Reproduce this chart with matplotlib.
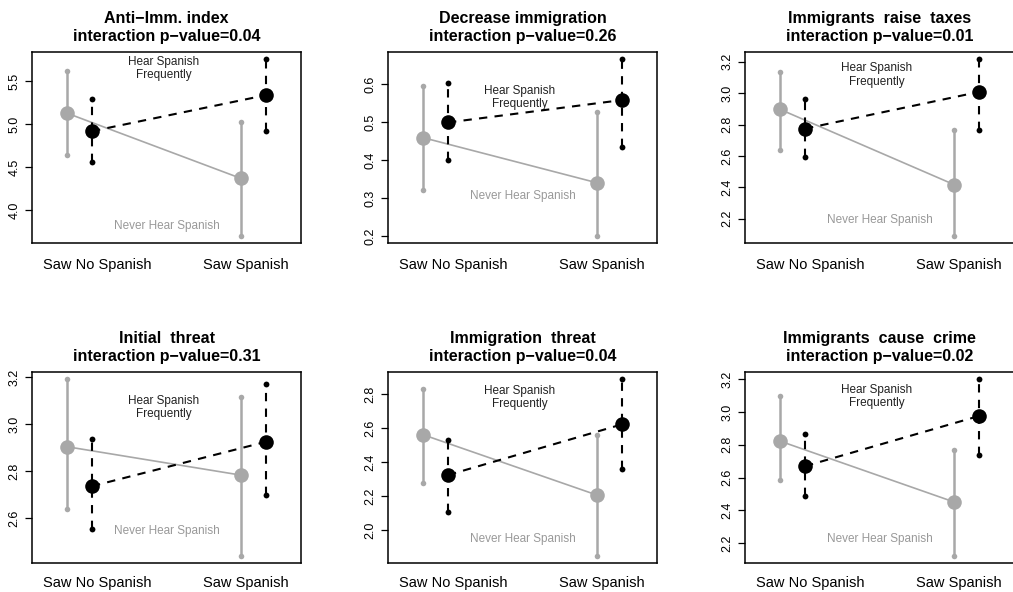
import matplotlib
matplotlib.use("Agg")
import matplotlib.pyplot as plt

plt.rcParams['font.family'] = ['Liberation Sans', 'DejaVu Sans']

titles = ["Anti\u2212Imm. index\ninteraction p\u2212value=0.04",
          "Decrease immigration\ninteraction p\u2212value=0.26",
          "Immigrants  raise  taxes\ninteraction p\u2212value=0.01",
          "Initial  threat\ninteraction p\u2212value=0.31",
          "Immigration  threat\ninteraction p\u2212value=0.04",
          "Immigrants  cause  crime\ninteraction p\u2212value=0.02"]
categories = ["Saw No Spanish", "Saw Spanish"]

# Never Hear Spanish (gray): means, lower, upper for [Saw No Spanish, Saw Spanish]
never_mean = [[5.13, 4.37], [0.459, 0.340], [2.897, 2.418], [2.905, 2.784], [2.562, 2.206], [2.822, 2.451]]
never_lo   = [[4.64, 3.70], [0.322, 0.200], [2.635, 2.091], [2.640, 2.440], [2.275, 1.847], [2.583, 2.122]]
never_hi   = [[5.62, 5.03], [0.595, 0.527], [3.132, 2.763], [3.193, 3.117], [2.831, 2.560], [3.094, 2.767]]
# Hear Spanish Frequently (black)
freq_mean = [[4.92, 5.34], [0.499, 0.558], [2.774, 3.008], [2.737, 2.926], [2.324, 2.623], [2.669, 2.975]]
freq_lo   = [[4.56, 4.92], [0.400, 0.434], [2.592, 2.763], [2.554, 2.699], [2.108, 2.360], [2.490, 2.737]]
freq_hi   = [[5.29, 5.76], [0.604, 0.666], [2.961, 3.217], [2.937, 3.174], [2.531, 2.890], [2.867, 3.200]]

yticks = [[4.0, 4.5, 5.0, 5.5], [0.2, 0.3, 0.4, 0.5, 0.6], [2.2, 2.4, 2.6, 2.8, 3.0, 3.2],
          [2.6, 2.8, 3.0, 3.2], [2.0, 2.2, 2.4, 2.6, 2.8], [2.2, 2.4, 2.6, 2.8, 3.0, 3.2]]
ytick_labels = [[f"{v:.1f}" for v in t] for t in yticks]

# label positions (axes fraction) per panel
hear_y = [0.914, 0.763, 0.879, 0.814, 0.868, 0.871]
never_y = [0.087, 0.244, 0.122, 0.168, 0.128, 0.124]

GRAY = "#a8a8a8"
TGRAY = "#999999"

W, H = 1013, 592
fig = plt.figure(figsize=(W / 100, H / 100), dpi=100)
lefts = [32, 388, 745]
tops = [52, 372]
aw, ah = 269, 191
xpads = [11, 9]

cat_x = [1.0, 2.0]
off = 0.072
xlim = (0.727, 2.273)
xt = [xlim[0] + f * (xlim[1] - xlim[0]) for f in (0.2435, 0.7955)]

for i in range(6):
    r, c = divmod(i, 3)
    ax = fig.add_axes([lefts[c] / W, 1 - (tops[r] + ah) / H, aw / W, ah / H])
    gx = [x - off for x in cat_x]
    bx = [x + off for x in cat_x]
    # gray series
    ax.plot(gx, never_mean[i], color=GRAY, lw=1.2, zorder=2)
    for j in range(2):
        ax.plot([gx[j], gx[j]], [never_lo[i][j], never_hi[i][j]], color=GRAY, lw=1.8, zorder=2)
        ax.plot([gx[j], gx[j]], [never_lo[i][j], never_hi[i][j]], 'o', color=GRAY, ms=4, mew=0, zorder=3)
    ax.plot(gx, never_mean[i], 'o', color=GRAY, ms=10.5, mew=0, zorder=3)
    # black series
    ax.plot(bx, freq_mean[i], color='black', lw=1.5, ls=(0, (4, 3.5)), zorder=4)
    for j in range(2):
        ax.plot([bx[j], bx[j]], [freq_lo[i][j], freq_hi[i][j]], color='black', lw=1.5,
                ls=(0, (4, 3.5)), zorder=4)
        ax.plot([bx[j], bx[j]], [freq_lo[i][j], freq_hi[i][j]], 'o', color='black', ms=4.2, mew=0, zorder=5)
    ax.plot(bx, freq_mean[i], 'o', color='black', ms=10.5, mew=0, zorder=5)

    lo = min(never_lo[i] + freq_lo[i])
    hi = max(never_hi[i] + freq_hi[i])
    pad = 0.04 * (hi - lo)
    ax.set_ylim(lo - pad, hi + pad)
    ax.set_xlim(*xlim)

    ax.set_yticks(yticks[i])
    ax.set_yticklabels(ytick_labels[i], rotation=90, va='center', fontsize=9)
    ax.tick_params(axis='y', length=5, width=0.9, pad=3.4, direction='out')
    ax.set_xticks(xt)
    ax.set_xticklabels(categories, fontsize=10.5)
    ax.tick_params(axis='x', length=0, pad=xpads[r])
    for s in ax.spines.values():
        s.set_linewidth(1.1)

    ax.text(0.49, hear_y[i], "Hear Spanish\nFrequently", transform=ax.transAxes,
            ha='center', va='center', fontsize=8.5, color='#222222', linespacing=1.15)
    ax.text(0.50, never_y[i], "Never Hear Spanish", transform=ax.transAxes,
            ha='center', va='center', fontsize=8.5, color=TGRAY)
    ax.set_title(titles[i], fontsize=11.5, fontweight='bold', pad=8, linespacing=1.25)

fig.savefig("out.png", dpi=100)
